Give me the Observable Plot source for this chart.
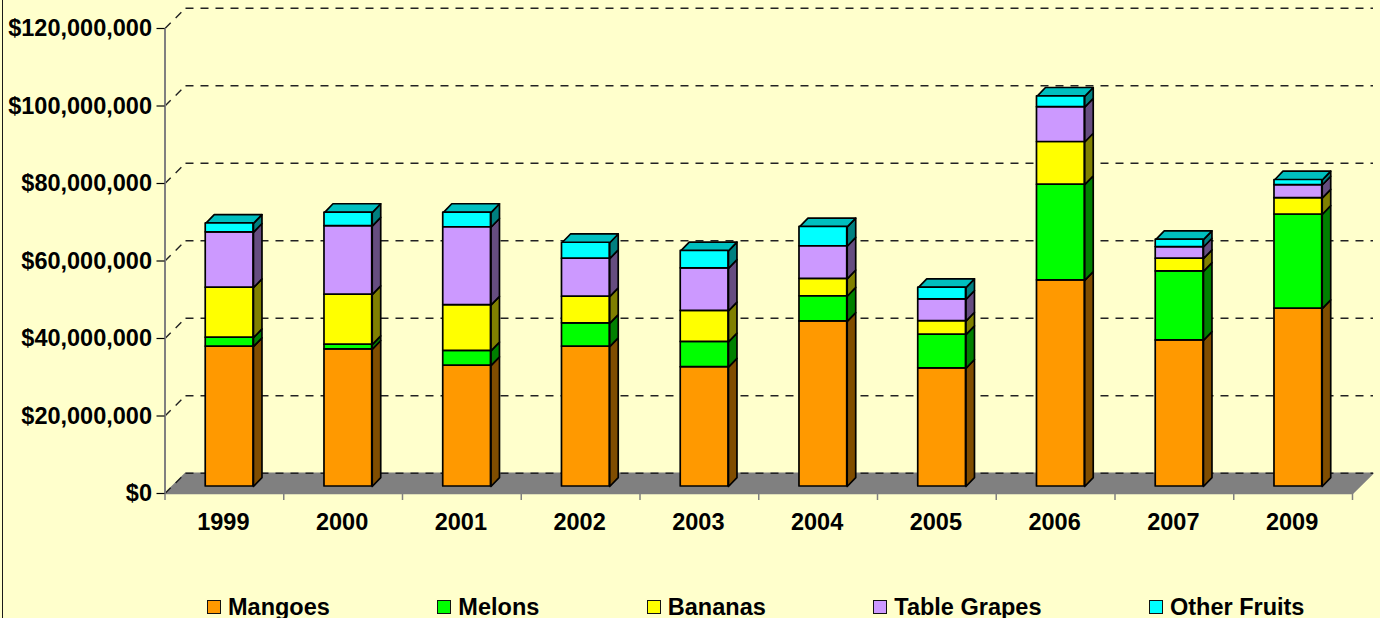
<!DOCTYPE html>
<html>
<head>
<meta charset="utf-8">
<script src="https://cdn.jsdelivr.net/npm/d3@7"></script>
<script src="https://cdn.jsdelivr.net/npm/@observablehq/plot@0.6"></script>
<style>
  html, body { margin: 0; padding: 0; background: #FFFFCC; width: 1380px; height: 618px; overflow: hidden; }
  body { position: relative; font-family: "Liberation Sans", Arial, sans-serif; }
  body::before { content: ""; position: absolute; left: 1.5px; top: 0; bottom: 0; width: 1.5px; background: #1a1a1a; z-index: 2; }
  svg { display: block; background: transparent !important; }
  #legend { position: absolute; top: 593px; left: 207px; display: flex; gap: 107.5px; font-size: 23.5px; font-weight: 700; color: #000; line-height: 28px; white-space: nowrap; }
  #legend .item { display: flex; align-items: center; }
  #legend .sw { width: 12px; height: 12px; border: 1.5px solid #111; margin-right: 7px; }
</style>
</head>
<body>
<div id="chart"></div>
<div id="legend"></div>
<script>
const years   = ["1999","2000","2001","2002","2003","2004","2005","2006","2007","2009"];
const mangoes = [36100000,35400000,31200000,36100000,30800000,42600000,30500000,53200000,37700000,45900000];
const melons  = [ 2300000, 1200000, 3800000, 6000000, 6500000, 6500000, 8700000,24700000,17800000,24300000];
const bananas = [12900000,12900000,11800000, 6900000, 8000000, 4500000, 3500000,11000000, 3300000, 4200000];
const grapes  = [14300000,17700000,20100000, 9800000,11000000, 8400000, 5600000, 9000000, 3000000, 3400000];
const others  = [ 2300000, 3500000, 3800000, 4100000, 4500000, 5000000, 3000000, 2800000, 1900000, 1300000];

const seriesNames = ["Mangoes","Melons","Bananas","Table Grapes","Other Fruits"];
const seriesVals  = [mangoes, melons, bananas, grapes, others];
const faceColors  = ["#FF9900","#00FF00","#FFFF00","#CC99FF","#00FFFF"];
const sideColors  = ["#804D00","#008000","#808000","#664D80","#008080"];
const topColor    = "#00BFBF";
const yTicks      = [0,20000000,40000000,60000000,80000000,100000000,120000000];

// Depths of the pseudo-3D box, in data units of the two scales
const wallDx = 0.1726, wallDy = 5240000;      // back wall
const barDx  = 0.0716, barDy  = 2270000;      // bar extrusion
const barLift = 1806000, barFromX = 0.343, barToX = 0.745;  // bar seat on the floor

const stacks = [];
years.forEach((year, i) => {
  let sum = barLift;
  seriesVals.forEach((vals, s) => {
    stacks.push({year, i, s, y1: sum, y2: sum + vals[i], x1: i + barFromX, x2: i + barToX, last: s === seriesVals.length - 1});
    sum += vals[i];
  });
});
const poly = (d, pts, key) => pts.map(([x, y]) => ({x, y, key, fill: d.fill}));
const sides = stacks.flatMap(d => poly({fill: sideColors[d.s]}, [
  [d.x2, d.y1], [d.x2 + barDx, d.y1 + barDy], [d.x2 + barDx, d.y2 + barDy], [d.x2, d.y2]
], `${d.i}-${d.s}`));
const tops = stacks.filter(d => d.last).flatMap(d => poly({fill: topColor}, [
  [d.x1, d.y2], [d.x2, d.y2], [d.x2 + barDx, d.y2 + barDy], [d.x1 + barDx, d.y2 + barDy]
], `${d.i}`));
const floor = [[0,0],[10,0],[10 + wallDx, wallDy],[wallDx, wallDy]].map(([x,y]) => ({x,y}));

const boldText = {fontSize: 23.5, fontWeight: 700, fill: "#000"};
const gridStyle = {stroke: "#222", strokeWidth: 1.4, strokeDasharray: "8 7"};
const edge = {stroke: "#000", strokeWidth: 1.7, strokeLinejoin: "round"};

const chart = Plot.plot({
  width: 1380, height: 590,
  marginLeft: 164.5, marginRight: 28, marginTop: 28, marginBottom: 97,
  x: {domain: [0, 10], axis: null},
  y: {domain: [0, 120000000], axis: null},
  style: {background: "transparent", fontFamily: '"Liberation Sans", Arial, sans-serif', overflow: "visible"},
  marks: [
    Plot.line(floor, {x: "x", y: "y", fill: "#808080", stroke: "#808080", curve: "linear-closed"}),
    Plot.link(yTicks, {x1: 0, y1: d => d, x2: wallDx, y2: d => d + wallDy, ...gridStyle}),
    Plot.link(yTicks, {x1: wallDx, y1: d => d + wallDy, x2: 10 + wallDx, y2: d => d + wallDy, ...gridStyle}),
    Plot.ruleX([0], {stroke: "#808080", strokeWidth: 2}),
    Plot.axisX({ticks: d3.range(0, 11), tickSize: 7, tickFormat: () => "", stroke: "#808080", strokeWidth: 1.5}),
    Plot.axisY({ticks: yTicks, tickSize: 8, tickPadding: 5, tickFormat: d3.format("$,"), stroke: "#000", strokeWidth: 1.2, label: null, ...boldText}),
    Plot.text(years, {x: (d, i) => i + 0.5, y: 0, dx: -1, dy: 29, text: d => d, ...boldText}),
    Plot.line(sides, {x: "x", y: "y", z: "key", fill: "fill", curve: "linear-closed", ...edge}),
    Plot.line(tops, {x: "x", y: "y", z: "key", fill: "fill", curve: "linear-closed", ...edge}),
    Plot.rect(stacks, {x1: "x1", x2: "x2", y1: "y1", y2: "y2", fill: d => faceColors[d.s], ...edge})
  ]
});
document.getElementById("chart").append(chart);

const legend = d3.select("#legend");
seriesNames.forEach((name, i) => {
  const item = legend.append("div").attr("class", "item");
  item.append("span").attr("class", "sw").style("background", faceColors[i]);
  item.append("span").text(name);
});
</script>
</body>
</html>
